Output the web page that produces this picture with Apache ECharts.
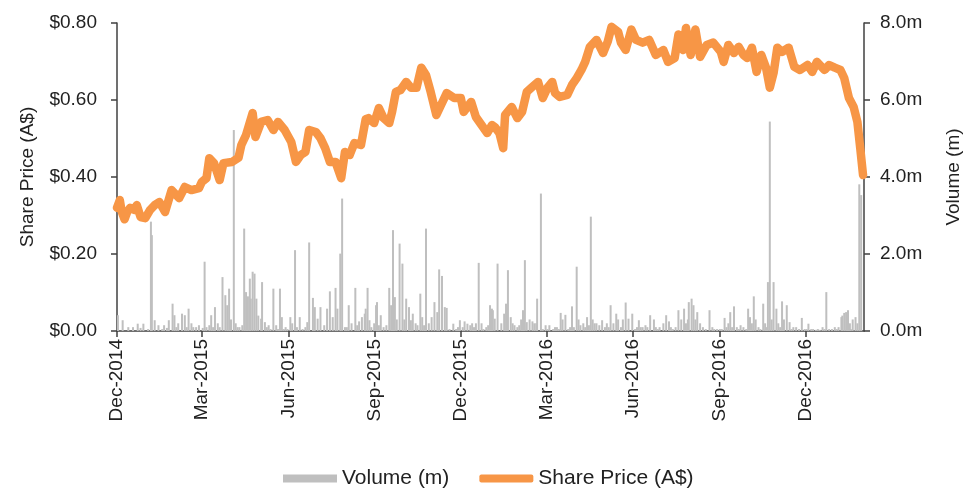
<!DOCTYPE html>
<html>
<head>
<meta charset="utf-8">
<script src="https://cdn.jsdelivr.net/npm/echarts@6/dist/echarts.min.js"></script>
<style>html,body{margin:0;padding:0;background:#fff}#c{width:964px;height:488px}</style>
</head>
<body>
<div id="c"></div>
<script>
const xTickDates = ['2014-12-01','2015-03-01','2015-06-01','2015-09-01','2015-12-01','2016-03-01','2016-06-01','2016-09-01','2016-12-01'];
const xTickLabels = ['Dec-2014','Mar-2015','Jun-2015','Sep-2015','Dec-2015','Mar-2016','Jun-2016','Sep-2016','Dec-2016'];
const xStart = '2014-12-01';
const xEnd = '2017-02-01';

const priceDates = ['2014-12-01','2014-12-04','2014-12-06','2014-12-09','2014-12-12','2014-12-15','2014-12-19','2014-12-22','2014-12-26','2014-12-31',
'2015-01-05','2015-01-10','2015-01-15','2015-01-21','2015-01-28','2015-02-05','2015-02-11','2015-02-18','2015-02-26','2015-03-01',
'2015-03-06','2015-03-09','2015-03-14','2015-03-20','2015-03-24','2015-04-02','2015-04-09','2015-04-12','2015-04-17','2015-04-24',
'2015-04-27','2015-05-03','2015-05-10','2015-05-16','2015-05-21','2015-05-28','2015-06-04','2015-06-09','2015-06-14','2015-06-19',
'2015-06-23','2015-06-30','2015-07-05','2015-07-10','2015-07-15','2015-07-21','2015-07-27','2015-07-31','2015-08-05','2015-08-10',
'2015-08-17','2015-08-22','2015-08-25','2015-08-31','2015-09-05','2015-09-10','2015-09-16','2015-09-19','2015-09-23','2015-09-28',
'2015-10-04','2015-10-09','2015-10-15','2015-10-20','2015-10-25','2015-10-30','2015-11-05','2015-11-10','2015-11-16','2015-11-24',
'2015-12-01','2015-12-04','2015-12-12','2015-12-17','2015-12-23','2015-12-29','2016-01-03','2016-01-06','2016-01-11','2016-01-15',
'2016-01-17','2016-01-24','2016-01-30','2016-02-04','2016-02-09','2016-02-14','2016-02-21','2016-02-26','2016-03-02','2016-03-07',
'2016-03-10','2016-03-15','2016-03-23','2016-03-28','2016-04-02','2016-04-07','2016-04-11','2016-04-16','2016-04-23','2016-04-30',
'2016-05-05','2016-05-09','2016-05-16','2016-05-19','2016-05-24','2016-05-30','2016-06-04','2016-06-11','2016-06-18','2016-06-25',
'2016-07-03','2016-07-08','2016-07-15','2016-07-19','2016-07-24','2016-07-27','2016-08-01','2016-08-06','2016-08-11','2016-08-18',
'2016-08-25','2016-09-02','2016-09-05','2016-09-10','2016-09-16','2016-09-21','2016-09-26','2016-09-30','2016-10-05','2016-10-10',
'2016-10-15','2016-10-20','2016-10-24','2016-10-28','2016-11-01','2016-11-06','2016-11-13','2016-11-19','2016-11-25','2016-12-03',
'2016-12-08','2016-12-13','2016-12-21','2016-12-26','2017-01-01','2017-01-07','2017-01-11','2017-01-16','2017-01-21','2017-01-25',
'2017-01-28','2017-01-31'];
const priceValues = [0.32,0.34,0.31,0.29,0.31,0.32,0.315,0.327,0.296,0.293,
0.314,0.327,0.335,0.309,0.366,0.345,0.374,0.366,0.371,0.387,
0.397,0.449,0.436,0.392,0.436,0.439,0.45,0.483,0.509,0.566,
0.504,0.543,0.548,0.522,0.543,0.522,0.491,0.439,0.457,0.465,
0.522,0.517,0.501,0.475,0.439,0.439,0.397,0.465,0.457,0.488,
0.483,0.55,0.553,0.54,0.579,0.553,0.54,0.569,0.621,0.626,
0.647,0.632,0.632,0.684,0.665,0.621,0.561,0.587,0.618,0.605,
0.605,0.569,0.595,0.556,0.535,0.514,0.535,0.53,0.514,0.475,
0.561,0.582,0.553,0.569,0.621,0.632,0.647,0.605,0.632,0.647,
0.618,0.608,0.613,0.639,0.657,0.678,0.699,0.738,0.756,0.722,
0.752,0.79,0.777,0.749,0.73,0.783,0.756,0.749,0.756,0.717,
0.73,0.699,0.709,0.77,0.73,0.787,0.717,0.783,0.712,0.743,
0.749,0.725,0.699,0.743,0.722,0.738,0.717,0.709,0.736,0.673,
0.717,0.684,0.632,0.67,0.736,0.725,0.736,0.686,0.678,0.691,
0.673,0.699,0.678,0.691,0.684,0.678,0.657,0.605,0.582,0.543,
0.475,0.405];

const volumeDates = ['2014-12-02','2014-12-07','2014-12-13','2014-12-18','2014-12-23','2014-12-26','2014-12-29','2015-01-03','2015-01-06','2015-01-07',
'2015-01-10','2015-01-14','2015-01-18','2015-01-20','2015-01-23','2015-01-25','2015-01-29','2015-01-31','2015-02-02','2015-02-04',
'2015-02-08','2015-02-11','2015-02-13','2015-02-15','2015-02-18','2015-02-20','2015-02-23','2015-02-26','2015-03-02','2015-03-04',
'2015-03-06','2015-03-09','2015-03-11','2015-03-13','2015-03-15','2015-03-18','2015-03-20','2015-03-23','2015-03-26','2015-03-28',
'2015-03-30','2015-04-01','2015-04-04','2015-04-06','2015-04-08','2015-04-10','2015-04-13','2015-04-15','2015-04-17','2015-04-19',
'2015-04-21','2015-04-22','2015-04-24','2015-04-26','2015-04-28','2015-04-30','2015-05-03','2015-05-04','2015-05-07','2015-05-09',
'2015-05-11','2015-05-13','2015-05-16','2015-05-19','2015-05-21','2015-05-23','2015-05-25','2015-05-27','2015-05-29','2015-05-31',
'2015-06-03','2015-06-05','2015-06-08','2015-06-10','2015-06-13','2015-06-16','2015-06-19','2015-06-21','2015-06-23','2015-06-27',
'2015-06-29','2015-07-02','2015-07-05','2015-07-09','2015-07-12','2015-07-15','2015-07-18','2015-07-21','2015-07-23','2015-07-26',
'2015-07-28','2015-07-31','2015-08-02','2015-08-04','2015-08-07','2015-08-11','2015-08-13','2015-08-15','2015-08-18','2015-08-21',
'2015-08-22','2015-08-24','2015-08-26','2015-08-28','2015-08-31','2015-09-02','2015-09-03','2015-09-05','2015-09-07','2015-09-10',
'2015-09-13','2015-09-16','2015-09-18','2015-09-20','2015-09-22','2015-09-24','2015-09-27','2015-09-30','2015-10-02','2015-10-04',
'2015-10-07','2015-10-09','2015-10-11','2015-10-14','2015-10-16','2015-10-19','2015-10-21','2015-10-23','2015-10-25','2015-10-28',
'2015-10-31','2015-11-03','2015-11-06','2015-11-08','2015-11-11','2015-11-14','2015-11-16','2015-11-19','2015-11-23','2015-11-26',
'2015-11-28','2015-11-30','2015-12-03','2015-12-05','2015-12-08','2015-12-11','2015-12-13','2015-12-15','2015-12-17','2015-12-20',
'2015-12-23','2015-12-25','2015-12-28','2015-12-30','2016-01-01','2016-01-03','2016-01-04','2016-01-06','2016-01-09','2016-01-13',
'2016-01-16','2016-01-18','2016-01-20','2016-01-23','2016-01-25','2016-01-27','2016-01-30','2016-02-01','2016-02-03','2016-02-05',
'2016-02-07','2016-02-09','2016-02-12','2016-02-15','2016-02-17','2016-02-19','2016-02-20','2016-02-24','2016-02-26','2016-02-29',
'2016-03-02','2016-03-04','2016-03-08','2016-03-10','2016-03-12','2016-03-14','2016-03-16','2016-03-18','2016-03-21','2016-03-24',
'2016-03-26','2016-03-28','2016-03-30','2016-04-02','2016-04-04','2016-04-06','2016-04-09','2016-04-11','2016-04-13','2016-04-15',
'2016-04-17','2016-04-19','2016-04-21','2016-04-23','2016-04-26','2016-04-29','2016-05-02','2016-05-04','2016-05-06','2016-05-08',
'2016-05-11','2016-05-14','2016-05-16','2016-05-19','2016-05-21','2016-05-24','2016-05-27','2016-05-31','2016-06-03','2016-06-05',
'2016-06-07','2016-06-09','2016-06-11','2016-06-14','2016-06-16','2016-06-19','2016-06-23','2016-06-25','2016-06-27','2016-06-29',
'2016-07-03','2016-07-06','2016-07-09','2016-07-11','2016-07-13','2016-07-16','2016-07-19','2016-07-22','2016-07-25','2016-07-27',
'2016-07-29','2016-07-30','2016-08-02','2016-08-04','2016-08-06','2016-08-08','2016-08-11','2016-08-14','2016-08-17','2016-08-21',
'2016-08-24','2016-08-26','2016-08-29','2016-09-01','2016-09-03','2016-09-06','2016-09-08','2016-09-10','2016-09-12','2016-09-14',
'2016-09-16','2016-09-19','2016-09-21','2016-09-23','2016-09-26','2016-09-29','2016-10-01','2016-10-03','2016-10-05','2016-10-07',
'2016-10-09','2016-10-12','2016-10-14','2016-10-17','2016-10-19','2016-10-21','2016-10-22','2016-10-24','2016-10-26','2016-10-28',
'2016-10-31','2016-11-02','2016-11-04','2016-11-06','2016-11-08','2016-11-11','2016-11-14','2016-11-16','2016-11-18','2016-11-21',
'2016-11-24','2016-11-27','2016-11-30','2016-12-02','2016-12-04','2016-12-07','2016-12-09','2016-12-12','2016-12-14','2016-12-16',
'2016-12-19','2016-12-21','2016-12-23','2016-12-26','2016-12-29','2017-01-01','2017-01-03','2017-01-05','2017-01-08','2017-01-09',
'2017-01-11','2017-01-13','2017-01-15','2017-01-17','2017-01-18','2017-01-20','2017-01-23','2017-01-25','2017-01-27','2017-01-29'];
const volumeValues = [0.41,0.28,0.1,0.1,0.19,0.08,0.19,0.05,2.84,2.49,
0.28,0.15,0.05,0.15,0.08,0.28,0.71,0.41,0.1,0.2,
0.45,0.41,0.1,0.58,0.2,0.1,0.1,0.15,0.08,1.8,
0.1,0.15,0.41,0.1,0.62,0.2,0.1,1.4,0.93,0.67,
1.1,0.3,5.22,0.2,0.1,0.1,0.15,2.66,1.01,0.9,
1.36,0.84,1.54,1.49,0.84,0.4,0.32,1.27,0.23,0.1,
0.15,0.05,1.1,0.15,0.05,1.1,0.36,0.05,0.1,0.05,
0.36,0.2,2.1,0.1,0.36,0.05,0.1,0.23,2.3,0.86,
0.62,0.32,0.62,0.15,0.58,1.03,0.36,1.12,0.58,2.01,
3.44,0.1,0.1,0.67,0.2,1.12,0.15,0.25,0.36,0.45,
0.58,1.12,0.28,0.1,0.2,0.67,0.75,0.15,0.41,0.1,
0.15,1.12,0.67,2.62,0.88,0.3,2.27,1.75,0.3,0.84,
0.62,0.28,0.45,0.2,0.15,0.97,0.36,0.15,2.66,0.2,
0.36,0.75,0.49,1.6,1.43,0.62,0.6,0.05,0.19,0.05,
0.1,0.28,0.1,0.25,0.19,0.15,0.2,0.1,0.2,1.77,
0.2,0.05,0.1,0.15,0.67,0.58,0.54,0.32,1.75,0.2,
0.45,0.71,1.58,0.36,0.2,0.15,0.1,0.15,0.3,0.54,
1.84,0.23,0.3,0.25,0.2,0.2,0.84,3.57,0.05,0.15,
0.05,0.15,0.05,0.1,0.1,0.05,0.47,0.3,0.42,0.05,
0.1,0.64,0.1,1.67,0.3,0.15,0.2,0.1,0.36,0.15,
2.97,0.3,0.2,0.2,0.15,0.28,0.1,0.2,0.1,0.67,
0.2,0.45,0.3,0.1,0.3,0.74,0.32,0.45,0.05,0.1,
0.28,0.1,0.1,0.15,0.1,0.41,0.3,0.1,0.05,0.1,
0.2,0.41,0.25,0.1,0.05,0.1,0.54,0.3,0.58,0.2,
0.3,0.75,0.84,0.67,0.3,0.49,0.2,0.1,0.05,0.54,
0.1,0.05,0.05,0.05,0.05,0.34,0.1,0.2,0.49,0.1,
0.64,0.1,0.05,0.15,0.1,0.05,0.58,0.36,0.2,0.9,
0.3,0.1,0.05,0.71,0.2,0.1,1.27,5.44,0.3,1.27,
0.58,0.2,0.1,0.77,0.3,0.67,0.23,0.05,0.1,0.1,
0.05,0.34,0.05,0.05,0.19,0.05,0.05,0.03,0.05,0.03,
0.1,0.05,1.01,0.05,0.05,0.1,0.05,0.1,0.36,0.4,
0.47,0.49,0.54,0.2,0.05,0.3,0.36,0.2,3.81,3.53];

function toTs(s) { const p = s.split('-').map(Number); return Date.UTC(p[0], p[1] - 1, p[2]); }
const tickTs = xTickDates.map(toTs);
const FONT = 'Liberation Sans, Arial, sans-serif';
const AX = '#404040';

const chart = echarts.init(document.getElementById('c'), null, { renderer: 'canvas' });
chart.setOption({
  animation: false,
  backgroundColor: '#ffffff',
  textStyle: { fontFamily: FONT },
  grid: { left: 117, right: 100, top: 23, bottom: 157, containLabel: false, outerBoundsMode: 'none' },
  legend: {
    left: 278, top: 463,
    itemWidth: 54, itemHeight: 8, itemGap: 30,
    textStyle: { fontFamily: FONT, fontSize: 21, color: '#222' },
    data: [
      { name: 'Volume (m)', icon: 'rect' },
      { name: 'Share Price (A$)', icon: 'roundRect' }
    ]
  },
  xAxis: {
    type: 'value',
    min: toTs(xStart), max: toTs(xEnd),
    axisLine: { show: true, onZero: false, lineStyle: { color: AX, width: 1.5 } },
    axisTick: { show: true, length: 6, customValues: tickTs, lineStyle: { color: AX, width: 1.5 } },
    axisLabel: {
      customValues: tickTs, rotate: 90, margin: 8,
      fontFamily: FONT, fontSize: 19, color: '#222',
      formatter: function (v) {
        let best = 0, bd = Infinity;
        tickTs.forEach((t, i) => { const d = Math.abs(t - v); if (d < bd) { bd = d; best = i; } });
        return xTickLabels[best];
      }
    },
    splitLine: { show: false }
  },
  yAxis: [
    {
      type: 'value', min: 0, max: 0.8, interval: 0.2, position: 'left',
      name: 'Share Price (A$)', nameLocation: 'middle', nameGap: 80, nameRotate: 90,
      nameTextStyle: { fontFamily: FONT, fontSize: 19, color: '#222' },
      axisLine: { show: true, lineStyle: { color: AX, width: 1.5 } },
      axisTick: { show: true, length: 6, lineStyle: { color: AX, width: 1.5 } },
      axisLabel: { margin: 20, fontFamily: FONT, fontSize: 19, color: '#222', formatter: v => '$' + v.toFixed(2) },
      splitLine: { show: false }
    },
    {
      type: 'value', min: 0, max: 8, interval: 2, position: 'right',
      name: 'Volume (m)', nameLocation: 'middle', nameGap: 80, nameRotate: 90,
      nameTextStyle: { fontFamily: FONT, fontSize: 19, color: '#222' },
      axisLine: { show: true, lineStyle: { color: AX, width: 1.5 } },
      axisTick: { show: true, length: 6, lineStyle: { color: AX, width: 1.5 } },
      axisLabel: { margin: 16, fontFamily: FONT, fontSize: 19, color: '#222', formatter: v => v.toFixed(1) + 'm' },
      splitLine: { show: false }
    }
  ],
  series: [
    {
      name: 'Volume (m)', type: 'bar', yAxisIndex: 1,
      barWidth: 2,
      itemStyle: { color: '#bfbfbf' },
      data: volumeDates.map((d, i) => [toTs(d), volumeValues[i]])
    },
    {
      name: 'Share Price (A$)', type: 'line', yAxisIndex: 0,
      symbol: 'none', showSymbol: false,
      lineStyle: { color: '#f79646', width: 8.5, cap: 'round', join: 'round' },
      itemStyle: { color: '#f79646' },
      data: priceDates.map((d, i) => [toTs(d), priceValues[i]])
    }
  ]
});
</script>
</body>
</html>
